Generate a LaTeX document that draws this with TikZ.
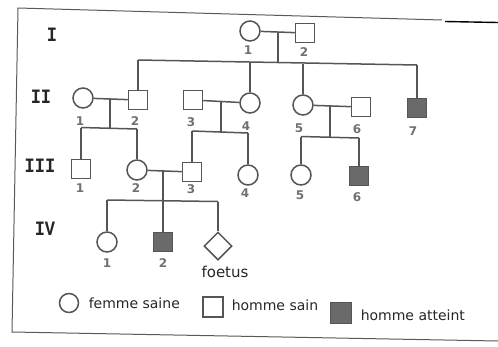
\documentclass[tikz,border=0pt]{standalone}
\usepackage{fontspec}
\setmainfont{Liberation Serif}
\newfontfamily\legfont{DejaVu Sans}
\newfontfamily\genfont{Liberation Mono}
\usetikzlibrary{shapes.geometric}
\definecolor{ln}{HTML}{555555}
\definecolor{fillc}{HTML}{6A6A6A}
\definecolor{numc}{HTML}{707070}
\begin{document}
\begin{tikzpicture}[x=1pt,y=-1pt,
  line width=1.5pt, ln,
  fem/.style={circle, draw=ln, fill=white, minimum size=20pt, inner sep=0pt},
  mal/.style={rectangle, draw=ln, fill=white, minimum size=19pt, inner sep=0pt},
  aff/.style={rectangle, draw=ln, fill=fillc, minimum size=19pt, inner sep=0pt},
  fet/.style={diamond, draw=ln, fill=white, minimum width=28pt, minimum height=28pt, inner sep=0pt},
  num/.style={text=numc, font=\legfont\bfseries\fontsize{12}{12}\selectfont, inner sep=0pt},
  gen/.style={text=black!85, font=\genfont\bfseries\fontsize{17}{17}\selectfont, inner sep=0pt, yscale=1.2},
  leg/.style={text=black!85, font=\legfont\fontsize{14}{14}\selectfont, inner sep=0pt, anchor=west}]
\useasboundingbox (0,0) rectangle (498,346);
% frame
\draw[line width=1pt, black!65] (442,20) -- (18,8) -- (12,332) -- (498,341);
\draw[line width=1.4pt, black] (445,21.5) -- (498,22.5);
% generation labels
\node[gen] (gI) at (52,35) {I};
\node[gen] (gII) at (41,96.5) {II};
\node[gen] (gIII) at (40,165.5) {III};
\node[gen] (gIV) at (45,228.5) {IV};
% generation I
\node[fem] (I1) at (250,31) {};
\node[mal] (I2) at (305,33) {};
\node[num] (nI1) at (248,50) {1};
\node[num] (nI2) at (304,52) {2};
% generation II
\node[fem] (II1) at (83,98) {};
\node[mal] (II2) at (138,100) {};
\node[mal] (II3) at (193,100) {};
\node[fem] (II4) at (250,103) {};
\node[fem] (II5) at (303,105) {};
\node[mal] (II6) at (361,107) {};
\node[aff] (II7) at (417,108) {};
\node[num] (nII1) at (80,121) {1};
\node[num] (nII2) at (135,121) {2};
\node[num] (nII3) at (191,122) {3};
\node[num] (nII4) at (246,126) {4};
\node[num] (nII5) at (299,128) {5};
\node[num] (nII6) at (357,129) {6};
\node[num] (nII7) at (413,131) {7};
% generation III
\node[mal] (III1) at (81,169) {};
\node[fem] (III2) at (137,170) {};
\node[mal] (III3) at (192,172) {};
\node[fem] (III4) at (248,175) {};
\node[fem] (III5) at (301,175) {};
\node[aff] (III6) at (359,176) {};
\node[num] (nIII1) at (80,188) {1};
\node[num] (nIII2) at (136,188) {2};
\node[num] (nIII3) at (191,189) {3};
\node[num] (nIII4) at (245,193) {4};
\node[num] (nIII5) at (300,195) {5};
\node[num] (nIII6) at (357,197) {6};
% generation IV
\node[fem] (IV1) at (107,242) {};
\node[aff] (IV2) at (163,242) {};
\node[fet] (IV3) at (218,246) {};
\node[num] (nIV1) at (107,263) {1};
\node[num] (nIV2) at (163,263) {2};
\node[text=black!85, font=\legfont\fontsize{15}{15}\selectfont, inner sep=0pt] (foet) at (225,272) {foetus};
% family I1 x I2
\coordinate (m1) at (278,32);
\coordinate (d1) at (278,61.5);
\coordinate (t1a) at (138,60);
\coordinate (t1b) at (250,62.5);
\coordinate (t1c) at (303,63.5);
\coordinate (t1d) at (417,65);
\draw (I1) -- (I2);
\draw (m1) -- (d1);
\draw (t1a) -- (t1d);
\draw (t1a) -- (II2);
\draw (t1b) -- (II4);
\draw (t1c) -- (II5);
\draw (t1d) -- (II7);
% family II1 x II2
\coordinate (m2) at (110,99);
\coordinate (d2) at (110,128.2);
\coordinate (t2a) at (81,127.5);
\coordinate (t2b) at (137,129);
\draw (II1) -- (II2);
\draw (m2) -- (d2);
\draw (t2a) -- (t2b);
\draw (t2a) -- (III1);
\draw (t2b) -- (III2);
% family II3 x II4
\coordinate (m3) at (221,101.5);
\coordinate (d3) at (221,132);
\coordinate (t3a) at (192,131);
\coordinate (t3b) at (248,133);
\draw (II3) -- (II4);
\draw (m3) -- (d3);
\draw (t3a) -- (t3b);
\draw (t3a) -- (III3);
\draw (t3b) -- (III4);
% family II5 x II6
\coordinate (m4) at (330,106);
\coordinate (d4) at (330,137.2);
\coordinate (t4a) at (301,136.5);
\coordinate (t4b) at (359,138);
\draw (II5) -- (II6);
\draw (m4) -- (d4);
\draw (t4a) -- (t4b);
\draw (t4a) -- (III5);
\draw (t4b) -- (III6);
% family III2 x III3
\coordinate (m5) at (163,171);
\coordinate (t5a) at (107,200);
\coordinate (t5b) at (218,201.5);
\draw (III2) -- (III3);
\draw (t5a) -- (t5b);
\draw (m5) -- (IV2);
\draw (t5a) -- (IV1);
\draw (t5b) -- (IV3);
% legend
\node[fem, minimum size=19pt] (L1) at (69,303) {};
\node[leg] (L1t) at (88,303) {femme saine};
\node[mal, minimum size=20pt] (L2) at (213,307) {};
\node[leg] (L2t) at (231,305) {homme sain};
\node[aff, minimum size=21pt] (L3) at (341,313) {};
\node[leg] (L3t) at (360,315) {homme atteint};
\end{tikzpicture}
\end{document}
